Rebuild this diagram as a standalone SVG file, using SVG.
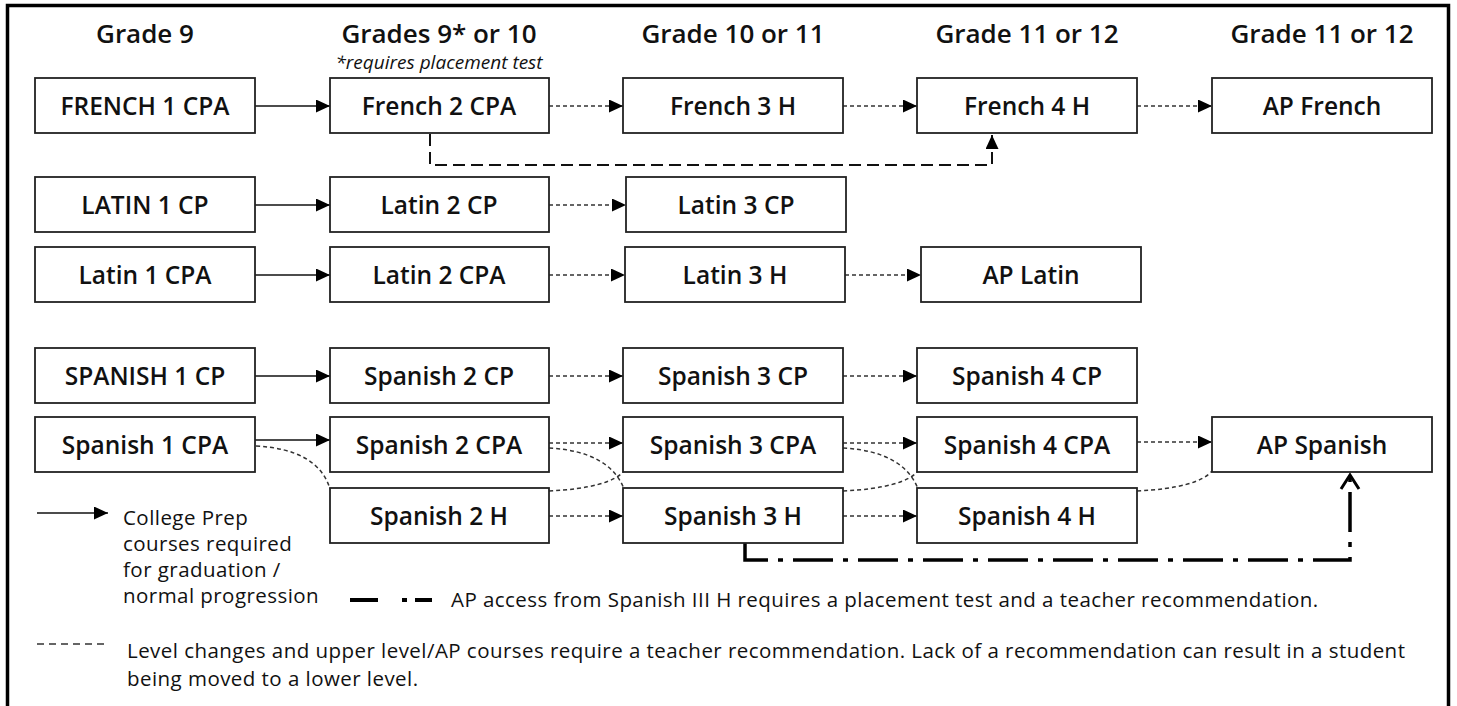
<svg xmlns="http://www.w3.org/2000/svg" width="1457" height="706" viewBox="0 0 1457 706">
<defs>
<style>
.box{fill:#fff;stroke:#222;stroke-width:1.8}
.nt{font-family:"Open Sans","Noto Sans",sans-serif;font-weight:600;font-size:24.5px;fill:#111;text-anchor:middle}
.hd{font-family:"Open Sans","Noto Sans",sans-serif;font-weight:600;font-size:26px;fill:#111;text-anchor:middle}
.lg{font-family:"Open Sans","Noto Sans",sans-serif;font-size:20.5px;letter-spacing:0.45px;fill:#111}
.solid{stroke:#111;stroke-width:1.5;fill:none}
.dash{stroke:#333;stroke-width:1.5;fill:none;stroke-dasharray:4 3}
.ldash{stroke:#111;stroke-width:2;fill:none;stroke-dasharray:12 6}
.dd{stroke:#000;stroke-width:3.5;fill:none;stroke-dasharray:40 10 5 10}
</style>
<marker id="ah" markerUnits="userSpaceOnUse" markerWidth="14" markerHeight="13" refX="14" refY="6.5" orient="auto"><path d="M0,0 L14,6.5 L0,13 z" fill="#000"/></marker>
<marker id="oh" markerUnits="userSpaceOnUse" markerWidth="20" markerHeight="24" refX="16" refY="12" orient="auto" overflow="visible"><path d="M2,3 L16,12 L2,21" fill="none" stroke="#000" stroke-width="3"/></marker>
</defs>
<rect x="0" y="0" width="1457" height="706" fill="#fff"/>
<rect x="7.5" y="5.5" width="1441" height="720" fill="none" stroke="#000" stroke-width="3.5"/>

<g id="headers">
<text class="hd" x="145" y="42.5">Grade 9</text>
<text class="hd" x="439" y="42.5">Grades 9* or 10</text>
<text x="439" y="69" font-family="'Open Sans','Noto Sans',sans-serif" font-style="italic" font-size="19px" fill="#111" text-anchor="middle">*requires placement test</text>
<text class="hd" x="733" y="42.5">Grade 10 or 11</text>
<text class="hd" x="1027" y="42.5">Grade 11 or 12</text>
<text class="hd" x="1322" y="42.5">Grade 11 or 12</text>
</g>

<g id="connectors">
<line class="solid" x1="255" y1="106" x2="330" y2="106" marker-end="url(#ah)"/>
<line class="dash" x1="549" y1="106" x2="623" y2="106" marker-end="url(#ah)"/>
<line class="dash" x1="843" y1="106" x2="917" y2="106" marker-end="url(#ah)"/>
<line class="dash" x1="1137" y1="106" x2="1212" y2="106" marker-end="url(#ah)"/>
<path class="ldash" d="M430,134 V165 H992 V135" marker-end="url(#ah)"/>

<line class="solid" x1="255" y1="205" x2="330" y2="205" marker-end="url(#ah)"/>
<line class="dash" x1="549" y1="205" x2="626" y2="205" marker-end="url(#ah)"/>
<line class="solid" x1="255" y1="275" x2="330" y2="275" marker-end="url(#ah)"/>
<line class="dash" x1="549" y1="275" x2="625" y2="275" marker-end="url(#ah)"/>
<line class="dash" x1="845" y1="275" x2="921" y2="275" marker-end="url(#ah)"/>

<line class="solid" x1="255" y1="376" x2="330" y2="376" marker-end="url(#ah)"/>
<line class="dash" x1="549" y1="376" x2="623" y2="376" marker-end="url(#ah)"/>
<line class="dash" x1="843" y1="376" x2="917" y2="376" marker-end="url(#ah)"/>

<line class="solid" x1="255" y1="440" x2="330" y2="440" marker-end="url(#ah)"/>
<line class="dash" x1="549" y1="443" x2="623" y2="443" marker-end="url(#ah)"/>
<line class="dash" x1="843" y1="443" x2="917" y2="443" marker-end="url(#ah)"/>
<line class="dash" x1="1137" y1="442" x2="1212" y2="442" marker-end="url(#ah)"/>

<line class="dash" x1="549" y1="516" x2="623" y2="516" marker-end="url(#ah)"/>
<line class="dash" x1="843" y1="516" x2="917" y2="516" marker-end="url(#ah)"/>

<path class="dash" d="M256,446 C296,448 322,462 330,489"/>
<path class="dash" d="M549,448 C590,450 615,465 624,489"/>
<path class="dash" d="M549,491 C590,489 615,482 624,471"/>
<path class="dash" d="M843,448 C884,450 909,465 918,489"/>
<path class="dash" d="M843,491 C884,489 909,482 918,471"/>
<path class="dash" d="M1137,491 C1178,489 1203,482 1212,471"/>

<path class="dd" d="M745,543 V560 H1350 V475" marker-end="url(#oh)"/>
</g>

<g id="n-french1"><rect class="box" x="35" y="78" width="220" height="55"/><text class="nt" x="145" y="115">FRENCH 1 CPA</text></g>
<g id="n-french2"><rect class="box" x="330" y="78" width="219" height="55"/><text class="nt" x="439" y="115">French 2 CPA</text></g>
<g id="n-french3"><rect class="box" x="623" y="78" width="220" height="55"/><text class="nt" x="733" y="115">French 3 H</text></g>
<g id="n-french4"><rect class="box" x="917" y="78" width="220" height="55"/><text class="nt" x="1027" y="115">French 4 H</text></g>
<g id="n-apfrench"><rect class="box" x="1212" y="78" width="220" height="55"/><text class="nt" x="1322" y="115">AP French</text></g>

<g id="n-latin1cp"><rect class="box" x="35" y="177" width="220" height="55"/><text class="nt" x="145" y="214">LATIN 1 CP</text></g>
<g id="n-latin2cp"><rect class="box" x="330" y="177" width="219" height="55"/><text class="nt" x="439" y="214">Latin 2 CP</text></g>
<g id="n-latin3cp"><rect class="box" x="626" y="177" width="220" height="55"/><text class="nt" x="736" y="214">Latin 3 CP</text></g>

<g id="n-latin1cpa"><rect class="box" x="35" y="247" width="220" height="55"/><text class="nt" x="145" y="284">Latin 1 CPA</text></g>
<g id="n-latin2cpa"><rect class="box" x="330" y="247" width="219" height="55"/><text class="nt" x="439" y="284">Latin 2 CPA</text></g>
<g id="n-latin3h"><rect class="box" x="625" y="247" width="220" height="55"/><text class="nt" x="735" y="284">Latin 3 H</text></g>
<g id="n-aplatin"><rect class="box" x="921" y="247" width="220" height="55"/><text class="nt" x="1031" y="284">AP Latin</text></g>

<g id="n-span1cp"><rect class="box" x="35" y="348" width="220" height="55"/><text class="nt" x="145" y="385">SPANISH 1 CP</text></g>
<g id="n-span2cp"><rect class="box" x="330" y="348" width="219" height="55"/><text class="nt" x="439" y="385">Spanish 2 CP</text></g>
<g id="n-span3cp"><rect class="box" x="623" y="348" width="220" height="55"/><text class="nt" x="733" y="385">Spanish 3 CP</text></g>
<g id="n-span4cp"><rect class="box" x="917" y="348" width="220" height="55"/><text class="nt" x="1027" y="385">Spanish 4 CP</text></g>

<g id="n-span1cpa"><rect class="box" x="35" y="417" width="220" height="55"/><text class="nt" x="145" y="454">Spanish 1 CPA</text></g>
<g id="n-span2cpa"><rect class="box" x="330" y="417" width="219" height="55"/><text class="nt" x="439" y="454">Spanish 2 CPA</text></g>
<g id="n-span3cpa"><rect class="box" x="623" y="417" width="220" height="55"/><text class="nt" x="733" y="454">Spanish 3 CPA</text></g>
<g id="n-span4cpa"><rect class="box" x="917" y="417" width="220" height="55"/><text class="nt" x="1027" y="454">Spanish 4 CPA</text></g>
<g id="n-apspanish"><rect class="box" x="1212" y="417" width="220" height="55"/><text class="nt" x="1322" y="454">AP Spanish</text></g>

<g id="n-span2h"><rect class="box" x="330" y="488" width="219" height="55"/><text class="nt" x="439" y="525">Spanish 2 H</text></g>
<g id="n-span3h"><rect class="box" x="623" y="488" width="220" height="55"/><text class="nt" x="733" y="525">Spanish 3 H</text></g>
<g id="n-span4h"><rect class="box" x="917" y="488" width="220" height="55"/><text class="nt" x="1027" y="525">Spanish 4 H</text></g>

<g id="legend">
<line class="solid" x1="37" y1="513" x2="108" y2="513" marker-end="url(#ah)"/>
<text class="lg" x="123" y="525">College Prep</text>
<text class="lg" x="123" y="551">courses required</text>
<text class="lg" x="123" y="577">for graduation /</text>
<text class="lg" x="123" y="603">normal progression</text>
<line x1="350" y1="600" x2="378" y2="600" stroke="#000" stroke-width="4"/>
<line x1="402" y1="600" x2="407" y2="600" stroke="#000" stroke-width="4"/>
<line x1="415" y1="600" x2="432" y2="600" stroke="#000" stroke-width="4"/>
<text class="lg" x="451" y="607">AP access from Spanish III H requires a placement test and a teacher recommendation.</text>
<line class="dash" x1="37" y1="644" x2="108" y2="644" style="stroke-dasharray:7 5"/>
<text class="lg" x="127" y="658">Level changes and upper level/AP courses require a teacher recommendation. Lack of a recommendation can result in a student</text>
<text class="lg" x="127" y="686">being moved to a lower level.</text>
</g>
</svg>
